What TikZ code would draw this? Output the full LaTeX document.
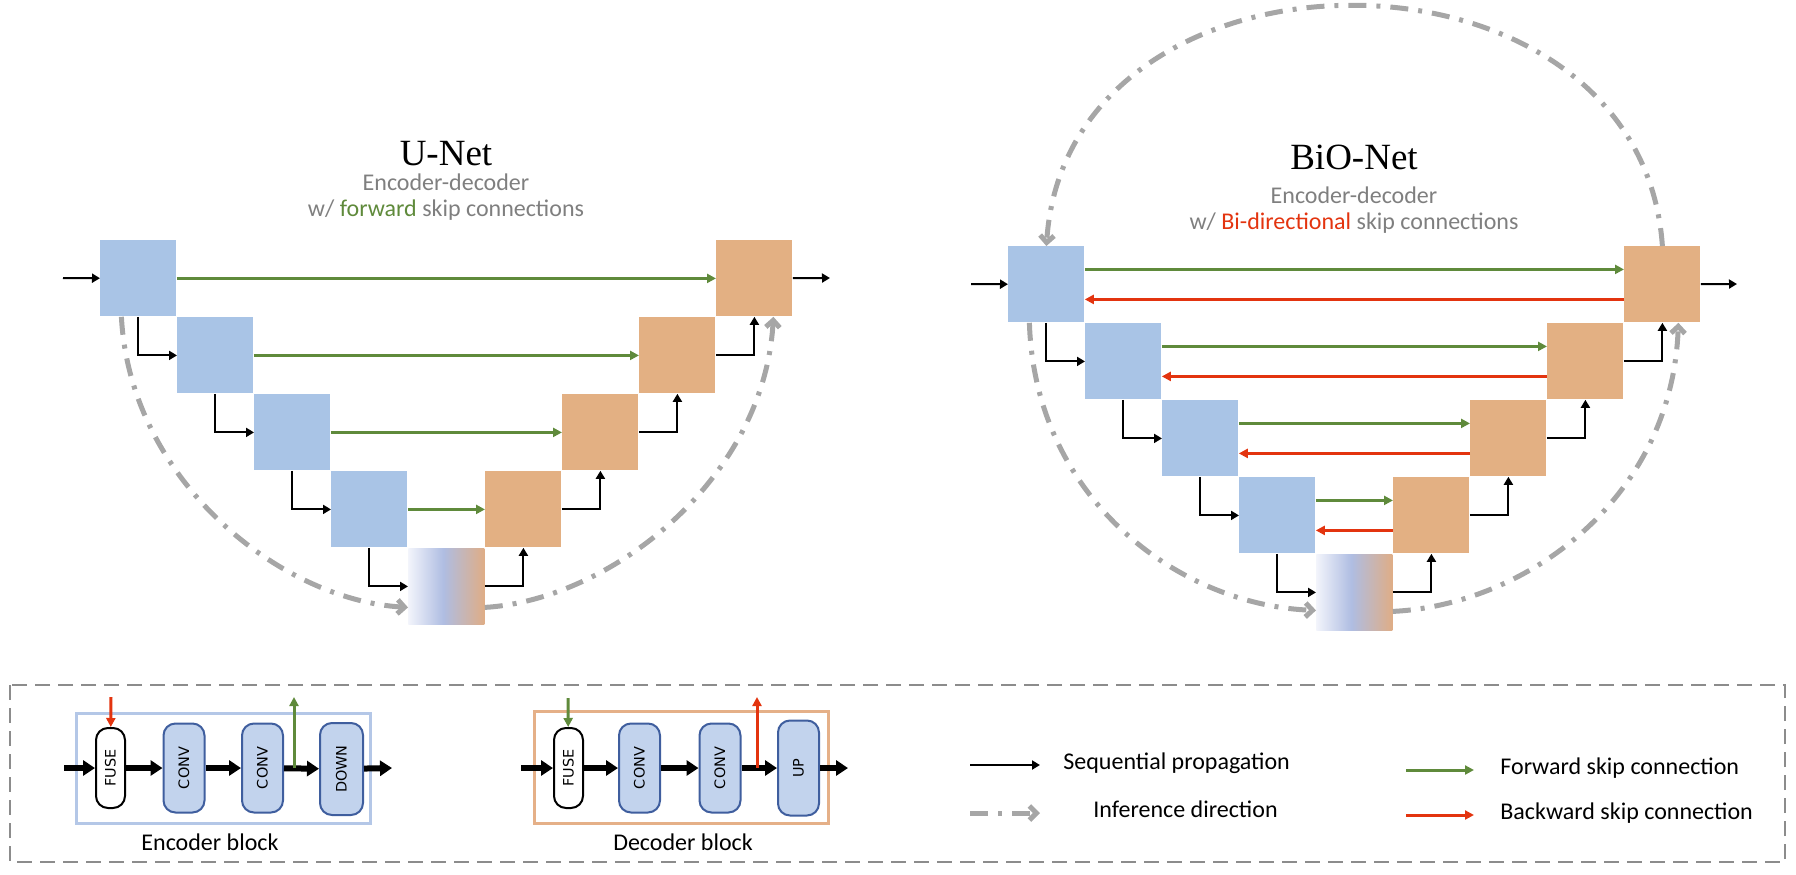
\documentclass[tikz,border=0pt]{standalone}
\usepackage{fontspec}
\setmainfont{Carlito}
\newfontfamily\titlefont{Liberation Serif}
\newfontfamily\blkfont{DejaVu Sans}
\usetikzlibrary{arrows.meta}
\definecolor{encblue}{HTML}{A9C4E6}
\definecolor{decorange}{HTML}{E3B083}
\definecolor{fwdgreen}{HTML}{5F8A3B}
\definecolor{bwdred}{HTML}{E3340F}
\definecolor{infgray}{HTML}{A6A6A6}
\definecolor{subgray}{HTML}{7F7F7F}
\definecolor{boxgray}{HTML}{8C8C8C}
\definecolor{convfill}{HTML}{C2D3ED}
\definecolor{convline}{HTML}{3F5E9E}
\definecolor{encframe}{HTML}{B4C7E7}
\definecolor{decframe}{HTML}{E5B088}
\definecolor{gradL}{HTML}{F2F4FB}
\definecolor{gradM}{HTML}{AFBDE2}
\definecolor{gradR}{HTML}{DFAD86}
\pgfdeclarehorizontalshading{botshade}{100bp}{color(0bp)=(gradL); color(25bp)=(gradL); color(48bp)=(gradM); color(75bp)=(gradR); color(100bp)=(gradR)}

\begin{document}
\begin{tikzpicture}[x=0.5pt,y=-0.5pt,
    blk/.style={minimum size=38pt,inner sep=0pt,anchor=north west},
    encblk/.style={blk,fill=encblue},
    decblk/.style={blk,fill=decorange},
    botblk/.style={blk,shading=botshade},
    seq/.style={line width=1pt,-{Triangle[length=4pt,width=4.5pt]}},
    fwd/.style={draw=fwdgreen,line width=1.5pt,-{Triangle[length=4.5pt,width=4.5pt]}},
    bwd/.style={draw=bwdred,line width=1.5pt,-{Triangle[length=4.5pt,width=4.5pt]}},
    infer/.style={draw=infgray,line width=2.5pt,dash pattern=on 9pt off 5pt on 2pt off 5pt,
        -{Straight Barb[length=3.5pt,width=7pt]}},
    thick arrow/.style={line width=3pt,-{Triangle[length=6pt,width=7.5pt]}},
    layer/.style={draw=convline,fill=convfill,line width=1pt,rounded corners=6pt,rotate=90,
        minimum width=44.5pt,minimum height=20.5pt,inner sep=0pt,font=\blkfont\fontsize{7.2}{8}\selectfont},
    fuse/.style={layer,draw=black,fill=white,minimum width=40pt,minimum height=14.5pt},
    title/.style={anchor=base,inner sep=0.5pt,font=\titlefont\fontsize{18.5}{20}\selectfont},
    sub/.style={anchor=base,inner sep=0.5pt,text=subgray,font=\fontsize{12}{14}\selectfont},
    legtext/.style={font=\fontsize{12}{14}\selectfont,inner sep=0pt}]
\useasboundingbox (0,0) rectangle (1796,874);

% U-Net
\node[title] (utitle) at (446,165) {U-Net};
\node[sub] (usub1) at (446,190) {Encoder-decoder};
\node[sub] (usub2) at (446,216) {w/ \textcolor{fwdgreen}{forward} skip connections};
\foreach \i in {1,...,4}{
  \node[encblk] (ue\i) at ({100+77*(\i-1)},{240+77*(\i-1)}) {};
  \node[decblk] (ud\i) at ({716-77*(\i-1)},{240+77*(\i-1)}) {};
}
\node[botblk] (ub) at (408,548) {};
\coordinate (uin) at (63,278);
\coordinate (uout) at (830,278);
\draw[seq] (uin) -- (ue1);
\foreach \i/\j in {1/2,2/3,3/4}{
  \draw[seq] (ue\i.south) |- (ue\j.west);
  \draw[seq] (ud\j.east) -| (ud\i.south);
}
\draw[seq] (ue4.south) |- (ub.west);
\draw[seq] (ub.east) -| (ud4.south);
\draw[seq] (ud1) -- (uout);
\foreach \i in {1,...,4}
  \draw[fwd] (ue\i.east) -- (ud\i.west);
\draw[infer] ([xshift=-8.5pt]ue1.south) .. controls (130,480) and (280,600) .. ([yshift=-10.5pt]ub.west);
\draw[infer] ([yshift=-10.5pt]ub.east) .. controls (610,600) and (764,480) .. ([xshift=9.5pt]ud1.south);

% BiO-Net
\node[title] (btitle) at (1354,169) {BiO-Net};
\node[sub] (bsub1) at (1354,203) {Encoder-decoder};
\node[sub] (bsub2) at (1354,229) {w/ \textcolor{bwdred}{Bi-directional} skip connections};
\foreach \i in {1,...,4}{
  \node[encblk] (be\i) at ({1008+77*(\i-1)},{246+77*(\i-1)}) {};
  \node[decblk] (bd\i) at ({1624-77*(\i-1)},{246+77*(\i-1)}) {};
}
\node[botblk] (bb) at (1316,554) {};
\coordinate (bin) at (971,284);
\coordinate (bout) at (1737,284);
\draw[seq] (bin) -- (be1);
\foreach \i/\j in {1/2,2/3,3/4}{
  \draw[seq] (be\i.south) |- (be\j.west);
  \draw[seq] (bd\j.east) -| (bd\i.south);
}
\draw[seq] (be4.south) |- (bb.west);
\draw[seq] (bb.east) -| (bd4.south);
\draw[seq] (bd1) -- (bout);
\foreach \i in {1,...,4}{
  \draw[fwd] ([yshift=7.5pt]be\i.east) -- ([yshift=7.5pt]bd\i.west);
  \draw[bwd] ([yshift=-7.5pt]bd\i.west) -- ([yshift=-7.5pt]be\i.east);
}
\draw[infer] ([xshift=-8.5pt]be1.south) .. controls (1035,500) and (1180,605) .. ([yshift=-9pt]bb.west);
\draw[infer] ([yshift=-9.5pt]bb.east) .. controls (1525,605) and (1672,500) .. ([xshift=8pt]bd1.south);
\draw[infer] (bd1.north) .. controls (1640,-74) and (1068,-74) .. (be1.north);

% legend
\draw[boxgray,line width=1pt,dash pattern=on 7.5pt off 4pt] (10,685) rectangle (1785,862);
\draw[encframe,line width=1.5pt] (76,713) rectangle (370,823);
\node[fuse] (efuse) at (110.5,768) {FUSE};
\node[layer] (econv1) at (184,768) {CONV};
\node[layer] (econv2) at (262.5,768) {CONV};
\node[layer,minimum width=46pt,minimum height=21.5pt] (edown) at (341.5,769) {DOWN};
\coordinate (ein) at (64,768);
\coordinate (eout) at (392,768);
\draw[thick arrow] (ein) -- (efuse);
\draw[thick arrow] (efuse) -- (econv1);
\draw[thick arrow] (econv1) -- (econv2);
\draw[thick arrow] (econv2) -- (edown);
\draw[thick arrow] (edown) -- (eout);
\coordinate (ebk) at (111,697);
\coordinate (efw) at (294,697);
\draw[bwd] (ebk) -- (efuse);
\draw[fwd] (efw |- econv2) -- (efw);
\node[legtext,anchor=base] (elabel) at (210,850) {Encoder block};

\draw[decframe,line width=1.5pt] (534,711) rectangle (828,823);
\node[fuse] (dfuse) at (568.5,768) {FUSE};
\node[layer] (dconv1) at (639.5,768) {CONV};
\node[layer] (dconv2) at (720,768) {CONV};
\node[layer,minimum width=47.5pt] (dup) at (798.5,768) {UP};
\coordinate (din) at (521,768);
\coordinate (dout) at (848,768);
\draw[thick arrow] (din) -- (dfuse);
\draw[thick arrow] (dfuse) -- (dconv1);
\draw[thick arrow] (dconv1) -- (dconv2);
\draw[thick arrow] (dconv2) -- (dup);
\draw[thick arrow] (dup) -- (dout);
\coordinate (dfw) at (568,698);
\coordinate (dbk) at (757,697);
\draw[fwd] (dfw) -- (dfuse);
\draw[bwd] (dbk |- dconv2) -- (dbk);
\node[legtext,anchor=base] (dlabel) at (683,850) {Decoder block};

\coordinate (lseqa) at (970,765);
\coordinate (lseqb) at (1040,765);
\draw[seq] (lseqa) -- (lseqb);
\node[legtext,anchor=mid west] (lseq) at (1063,765) {Sequential propagation};
\coordinate (linfa) at (970,813);
\coordinate (linfb) at (1040,813);
\draw[infer] (linfa) -- (linfb);
\node[legtext,anchor=mid west] (linf) at (1093,813) {Inference direction};
\coordinate (lfwa) at (1406,770);
\coordinate (lfwb) at (1474,770);
\draw[fwd] (lfwa) -- (lfwb);
\node[legtext,anchor=mid west] (lfw) at (1500,770) {Forward skip connection};
\coordinate (lbka) at (1406,815);
\coordinate (lbkb) at (1474,815);
\draw[bwd] (lbka) -- (lbkb);
\node[legtext,anchor=mid west] (lbk) at (1500,815) {Backward skip connection};
\end{tikzpicture}
\end{document}
